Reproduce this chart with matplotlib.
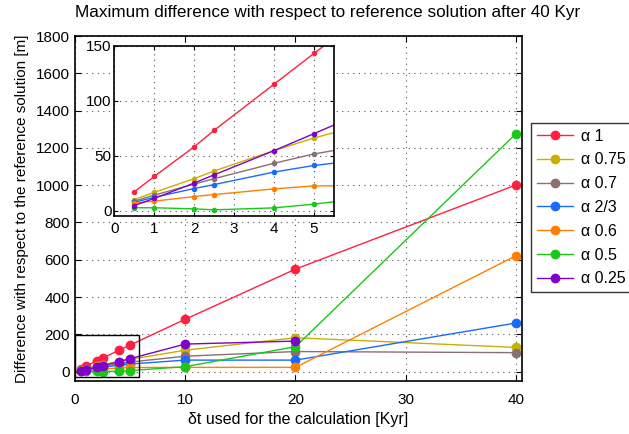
import matplotlib
matplotlib.use('Agg')
import matplotlib.pyplot as plt
from matplotlib.patches import Rectangle

plt.rcParams['font.family'] = ['Liberation Sans', 'DejaVu Sans']

# pas de temps (Kyr)
dt = [0.5, 1, 2, 2.5, 4, 5, 10, 20, 40]
dt_purple = [0.5, 1, 2, 2.5, 4, 5, 10, 20]

labels = ['α 1', 'α 0.75', 'α 0.7', 'α 2/3', 'α 0.6', 'α 0.5', 'α 0.25']
colors = ['#ff2040', '#c8b000', '#8a7070', '#1a6aff', '#ff8000', '#18c818', '#8000cc']

a1 = [17, 31, 58, 73, 115, 143, 281, 550, 1001]
a075 = [10, 16.5, 29, 36, 54.5, 66, 115, 182, 130]
a07 = [8.5, 14, 24, 29, 43, 51.5, 83, 108, 102]
a23 = [7.5, 12, 20, 23.6, 35, 41, 62, 62, 261]
a06 = [7, 8.5, 12.7, 14.5, 19.7, 22.4, 23, 23, 622]
a05 = [2.5, 2.5, 1.5, 0.6, 2.4, 5.8, 27, 134, 1276]
a025 = [4.5, 11, 25, 32.5, 54.5, 70, 148, 164]

series = [a1, a075, a07, a23, a06, a05, a025]
xs = [dt, dt, dt, dt, dt, dt, dt_purple]

fig = plt.figure(figsize=(6.29, 4.34), dpi=100)
ax = fig.add_axes([75/629, 1-381/434, (521.5-75)/629, (381-36)/434])

for x, y, c, l in zip(xs, series, colors, labels):
    ax.plot(x, y, '-o', color=c, lw=1.0, ms=6, label=l)

ax.set_xlim(0, 40.5)
ax.set_ylim(-50, 1800)
ax.set_xticks([0, 10, 20, 30, 40])
ax.set_yticks(range(0, 1801, 200))
ax.grid(True, ls=(0, (1, 4)), color='#555555', lw=0.8)
ax.tick_params(direction='in', top=True, right=True, length=4, labelsize=11)
ax.tick_params(axis='x', pad=9)
for s in ax.spines.values():
    s.set_linewidth(1.2)
fig.text(327.5/629, 1-13/434, 'Maximum difference with respect to reference solution after 40 Kyr',
         fontsize=12.3, ha='center', va='center')
ax.set_xlabel('δt used for the calculation [Kyr]', fontsize=11.5, labelpad=3)
ax.set_ylabel('Difference with respect to the reference solution [m]', fontsize=11, labelpad=5)

# zone zoomee
ax.add_patch(Rectangle((0, -27), 5.8, 225, fill=False, ec='black', lw=1.0, zorder=5))

leg = fig.legend(loc='upper left', bbox_to_anchor=(531/629, 1-123/434), fontsize=11.5,
                 frameon=True, fancybox=False, edgecolor='black', handlelength=2.3,
                 handletextpad=0.45, labelspacing=0.55, borderpad=0.35, borderaxespad=0)
leg.get_frame().set_linewidth(1.0)

# encart
ins = fig.add_axes([114.3/629, 1-216/434, (334-114.3)/629, (216-45.7)/434])
for x, y, c in zip(xs, series, colors):
    ins.plot(x, y, '-o', color=c, lw=1.0, ms=3)
ins.set_xlim(0, 5.5)
ins.set_ylim(-5, 150)
ins.set_xticks([0, 1, 2, 3, 4, 5])
ins.set_yticks([0, 50, 100, 150])
ins.grid(True, ls=(0, (1, 4)), color='#555555', lw=0.8)
ins.tick_params(direction='in', top=True, right=True, length=3, labelsize=11, pad=2)
ins.tick_params(axis='x', pad=4)
for s in ins.spines.values():
    s.set_linewidth(1.2)

fig.savefig('out.png', dpi=100)
